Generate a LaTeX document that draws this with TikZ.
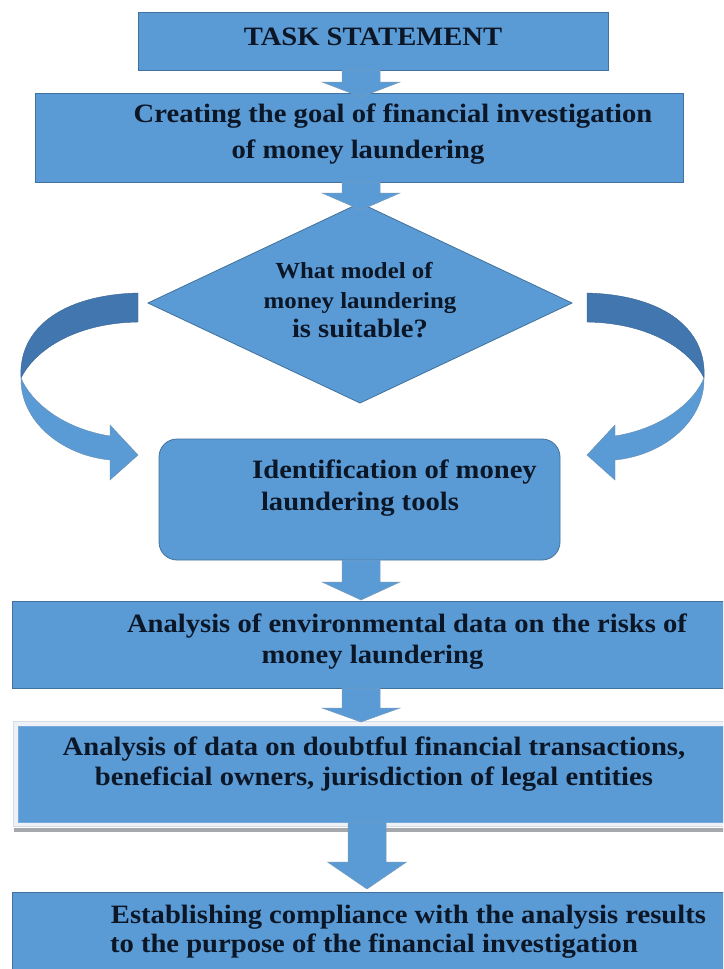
\documentclass[tikz,border=0pt]{standalone}
\usepackage{fontspec}
\setmainfont{Liberation Serif}[FakeStretch=1.08]
\usetikzlibrary{calc,shapes.geometric}
\definecolor{boxblue}{HTML}{5B9BD5}
\definecolor{boxedge}{HTML}{41719C}
\definecolor{darkband}{HTML}{4276AE}
\definecolor{txt}{HTML}{0B1626}
\definecolor{frameL}{HTML}{EEF2F6}
\definecolor{frameE}{HTML}{D5DCE4}
\definecolor{shadowG}{HTML}{A5A8AC}
\newcommand\blockarr[6]{%
  \draw[blockarrow] let \p1=(#1.south), \p2=(#2.north) in
    (#3pt-19pt,\y1) -- (#3pt+19pt,\y1) -- (#3pt+19pt,\y2+#4pt) -- (#3pt+#6pt,\y2+#4pt)
    -- (#3pt,\y2-#5pt) -- (#3pt-#6pt,\y2+#4pt) -- (#3pt-19pt,\y2+#4pt) -- cycle;}
\begin{document}
\begin{tikzpicture}[x=1pt,y=-1pt,
  box/.style={fill=boxblue,draw=boxedge,line width=0.8pt,inner sep=0pt,outer sep=0pt},
  lbl/.style={anchor=base,inner sep=0pt,text=txt,font=\fontsize{26.5}{31}\selectfont\bfseries},
  slbl/.style={lbl,font=\fontsize{23}{27}\selectfont\bfseries},
  blockarrow/.style={fill=boxblue,draw=boxedge!70,line width=0.5pt},
  bandD/.style={fill=darkband,draw=darkband!85!black,line width=0.4pt},
  bandL/.style={fill=boxblue,draw=boxedge!80,line width=0.4pt}]
\useasboundingbox (0,0) rectangle (723,969);
\clip (0,0) rectangle (723,969);
\fill[white] (0,0) rectangle (723,969);

% boxes
\node[box,minimum width=470pt,minimum height=58pt] (b1) at (373,41) {};
\node[box,minimum width=648pt,minimum height=89pt] (b2) at (359,137.5) {};
\node[box,shape=diamond,minimum width=424pt,minimum height=200pt] (dia) at (360,303) {};
\node[box,rounded corners=18pt,minimum width=401pt,minimum height=121pt] (b3) at (359.5,499.5) {};
\node[box,minimum width=718pt,minimum height=87pt] (b4) at (371,644.5) {};
\fill[frameL,draw=frameE,line width=0.6pt] (13,721) rectangle (735,826);
\fill[shadowG] (14,827.5) rectangle (735,832);
\node[box,draw=boxblue!85!white,minimum width=717pt,minimum height=96pt] (b5) at (376.5,774) {};
\node[box,minimum width=720pt,minimum height=100pt] (b6) at (372,942) {};

% block arrows
\blockarr{b1}{b2}{361}{11}{4}{39}
\blockarr{b2}{dia}{361}{10}{7}{39}
\blockarr{b3}{b4}{361}{19}{-1}{39}
\blockarr{b4}{b5}{361}{18}{-4}{39}
\blockarr{b5}{b6}{367}{30}{-3}{39.5}

% curved arrows (left)
\path[bandD] (138,293) .. controls (60,295) and (18,330) .. (21,378)
  .. controls (35,350) and (75,323) .. (138,322) -- cycle;
\path[bandL] (21,378) .. controls (20,420) and (60,455) .. (110,460)
  -- (110,480) -- (138,455) -- (110,425) -- (110,436)
  .. controls (60,428) and (30,400) .. (21,378) -- cycle;
% curved arrows (right)
\path[bandD] (587,293) .. controls (665,295) and (707,330) .. (704,378)
  .. controls (690,350) and (650,323) .. (587,322) -- cycle;
\path[bandL] (704,378) .. controls (705,420) and (665,455) .. (615,460)
  -- (615,480) -- (587,455) -- (615,425) -- (615,436)
  .. controls (665,428) and (695,400) .. (704,378) -- cycle;

% texts
\node[lbl] (t1) at (373,45) {TASK STATEMENT};
\node[lbl] (t2a) at (393,122) {Creating the goal of financial investigation};
\node[lbl] (t2b) at (358,158) {of money laundering};
\node[slbl] (t3a) at (354,278) {What model of};
\node[slbl] (t3b) at (360,308) {money laundering};
\node[lbl] (t3c) at (360,337) {is suitable?};
\node[lbl] (t4a) at (394.5,478) {Identification of money};
\node[lbl] (t4b) at (360,510) {laundering tools};
\node[lbl] (t5a) at (407,632) {Analysis of environmental data on the risks of};
\node[lbl] (t5b) at (372.5,663) {money laundering};
\node[lbl] (t6a) at (374,755) {Analysis of data on doubtful financial transactions,};
\node[lbl] (t6b) at (374,785) {beneficial owners, jurisdiction of legal entities};
\node[lbl] (t7a) at (408.5,923) {Establishing compliance with the analysis results};
\node[lbl] (t7b) at (374,952) {to the purpose of the financial investigation};
\end{tikzpicture}
\end{document}
